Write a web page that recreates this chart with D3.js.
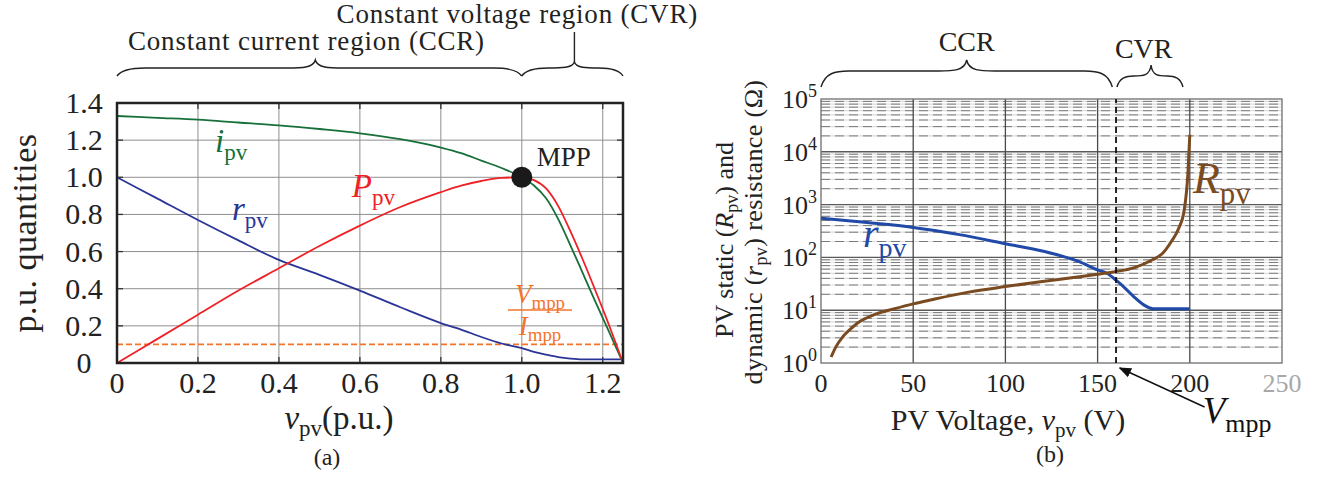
<!DOCTYPE html>
<html>
<head>
<meta charset="utf-8">
<script src="https://cdn.jsdelivr.net/npm/d3@7"></script>
<style>
  body { margin: 0; background: #fff; }
  svg { font-family: "Liberation Serif", "DejaVu Serif", serif; }
</style>
</head>
<body>
<svg id="fig" width="1325" height="480"></svg>
<script>
// ---- panel (a): per-unit quantities ----
const vPu   = [0, 0.1, 0.2, 0.3, 0.4, 0.5, 0.6, 0.7, 0.8, 0.85, 0.9, 0.95, 1.0, 1.03, 1.06, 1.09, 1.12, 1.15, 1.18, 1.21, 1.23, 1.25];
const iPv   = [1.33, 1.32, 1.31, 1.295, 1.28, 1.26, 1.237, 1.205, 1.16, 1.13, 1.09, 1.05, 1.0, 0.956, 0.887, 0.775, 0.634, 0.487, 0.339, 0.194, 0.098, 0];
const pPv   = [0, 0.13, 0.26, 0.39, 0.51, 0.63, 0.74, 0.84, 0.92, 0.955, 0.98, 0.997, 1.0, 0.985, 0.94, 0.845, 0.71, 0.56, 0.4, 0.235, 0.12, 0];
const rPvPu = [1.0, 0.885, 0.77, 0.66, 0.555, 0.475, 0.39, 0.30, 0.215, 0.18, 0.14, 0.105, 0.08, 0.06, 0.045, 0.032, 0.024, 0.02, 0.02, 0.02, 0.02, 0.02];
const vmppOverImpp = 0.1;
const mppPoint = [1.0, 1.0];
const puTicks = [0, 0.2, 0.4, 0.6, 0.8, 1.0, 1.2];
const puTickLabels = ["0", "0.2", "0.4", "0.6", "0.8", "1.0", "1.2"];
const yPuTicks = [0, 0.2, 0.4, 0.6, 0.8, 1.0, 1.2, 1.4];
const yPuTickLabels = ["0", "0.2", "0.4", "0.6", "0.8", "1.0", "1.2", "1.4"];

// ---- panel (b): resistances in ohms ----
const vStatic = [5.5, 8, 12, 16, 20, 25, 30, 40, 50, 60, 80, 100, 120, 140, 150, 160, 170, 180, 185, 190, 194, 197, 199, 200];
const rStatic = [1.3, 2.0, 3.2, 4.4, 5.8, 7.2, 8.5, 10.7, 13.2, 15.8, 22, 28, 35, 43, 48, 54, 64, 91, 117, 200, 355, 800, 4000, 21000];
const vDynamic = [0, 25, 50, 75, 100, 120, 140, 150, 155, 160, 165, 170, 175, 180, 190, 200];
const rDynamic = [550, 457, 370, 270, 182, 132, 83, 58, 50, 37, 26, 17.5, 12.6, 10.7, 10.7, 10.7];
const vMpp = 160;
const voltTicks = [0, 50, 100, 150, 200, 250];
const decadeExp = [0, 1, 2, 3, 4, 5];

const svg = d3.select("#fig");

const green = "#17703a", red = "#ee2127", navy = "#2a3597", orange = "#f3742b";
const blue = "#2149a8", brown = "#7a4a20";

function mathLabel(g, x, y, main, sub, size, color, anchor) {
  const t = g.append("text")
    .attr("x", x).attr("y", y)
    .attr("font-size", size)
    .attr("fill", color)
    .attr("text-anchor", anchor || "start");
  t.append("tspan").attr("font-style", "italic").text(main);
  if (sub) t.append("tspan").attr("font-size", size * 0.7).attr("dy", size * 0.24).text(sub);
  return t;
}

function brace(g, x1, x2, tip, yEnd, yMid, yTip) {
  const cl = Math.min(14, (tip - x1) / 4), cr = Math.min(14, (x2 - tip) / 4);
  const d = `M${x1},${yEnd}` +
    ` C${x1 + cl * 0.3},${yMid + 2} ${x1 + cl},${yMid} ${x1 + 2 * cl},${yMid}` +
    ` L${tip - 2 * cl},${yMid}` +
    ` C${tip - cl},${yMid} ${tip - cl * 0.15},${yMid} ${tip},${yTip}` +
    ` C${tip + cr * 0.15},${yMid} ${tip + cr},${yMid} ${tip + 2 * cr},${yMid}` +
    ` L${x2 - 2 * cr},${yMid}` +
    ` C${x2 - cr},${yMid} ${x2 - cr * 0.3},${yMid + 2} ${x2},${yEnd}`;
  g.append("path").attr("d", d).attr("fill", "none").attr("stroke", "#222").attr("stroke-width", 1.4);
}

// =================== panel (a) ===================
const xL = d3.scaleLinear().domain([0, 1.25]).range([117, 623]);
const yL = d3.scaleLinear().domain([0, 1.4]).range([363, 103]);
const gA = svg.append("g");

// grid
gA.selectAll(".gx").data(puTicks.slice(1)).enter().append("line")
  .attr("x1", d => xL(d)).attr("x2", d => xL(d))
  .attr("y1", yL(0)).attr("y2", yL(1.4))
  .attr("stroke", "#8e8e8e").attr("stroke-width", 1);
gA.selectAll(".gy").data(yPuTicks.slice(1, -1)).enter().append("line")
  .attr("x1", xL(0)).attr("x2", xL(1.25))
  .attr("y1", d => yL(d)).attr("y2", d => yL(d))
  .attr("stroke", "#8e8e8e").attr("stroke-width", 1);

// inward ticks
puTicks.slice(1).forEach(d => {
  gA.append("line").attr("x1", xL(d)).attr("x2", xL(d)).attr("y1", yL(0)).attr("y2", yL(0) - 6).attr("stroke", "#333").attr("stroke-width", 1.3);
  gA.append("line").attr("x1", xL(d)).attr("x2", xL(d)).attr("y1", yL(1.4)).attr("y2", yL(1.4) + 6).attr("stroke", "#333").attr("stroke-width", 1.3);
});
yPuTicks.slice(1, -1).forEach(d => {
  gA.append("line").attr("x1", xL(0)).attr("x2", xL(0) + 6).attr("y1", yL(d)).attr("y2", yL(d)).attr("stroke", "#333").attr("stroke-width", 1.3);
  gA.append("line").attr("x1", xL(1.25)).attr("x2", xL(1.25) - 6).attr("y1", yL(d)).attr("y2", yL(d)).attr("stroke", "#333").attr("stroke-width", 1.3);
});

// Vmpp/Impp dashed level
gA.append("line")
  .attr("x1", xL(0)).attr("x2", xL(1.25))
  .attr("y1", yL(vmppOverImpp)).attr("y2", yL(vmppOverImpp))
  .attr("stroke", orange).attr("stroke-width", 1.8).attr("stroke-dasharray", "6,3");

const lineL = ys => d3.line().x((d, i) => xL(vPu[i])).y(d => yL(d)).curve(d3.curveMonotoneX)(ys);
[[rPvPu, navy], [iPv, green], [pPv, red]].forEach(([ys, c]) => {
  gA.append("path").attr("d", lineL(ys)).attr("fill", "none").attr("stroke", c).attr("stroke-width", 1.8);
});

// frame
gA.append("rect")
  .attr("x", xL(0)).attr("y", yL(1.4))
  .attr("width", xL(1.25) - xL(0)).attr("height", yL(0) - yL(1.4))
  .attr("fill", "none").attr("stroke", "#222").attr("stroke-width", 2.5);

// MPP marker
gA.append("circle").attr("cx", xL(mppPoint[0])).attr("cy", yL(mppPoint[1])).attr("r", 10.5).attr("fill", "#1a1a1a");
gA.append("text").attr("x", xL(1.037)).attr("y", yL(1.061)).attr("font-size", 27).attr("fill", "#222").text("MPP");

// tick labels
gA.selectAll(".tx").data(puTicks).enter().append("text")
  .attr("x", d => xL(d)).attr("y", yL(0) + 30)
  .attr("text-anchor", "middle").attr("font-size", 30).attr("fill", "#222")
  .text((d, i) => puTickLabels[i]);
gA.selectAll(".ty").data(yPuTicks).enter().append("text")
  .attr("x", 84).attr("y", d => yL(d) + 10)
  .attr("text-anchor", "middle").attr("font-size", 30).attr("fill", "#222")
  .text((d, i) => yPuTickLabels[i]);

// axis titles
gA.append("text").attr("transform", `translate(36,${(yL(0) + yL(1.4)) / 2}) rotate(-90)`)
  .attr("text-anchor", "middle").attr("font-size", 34).attr("letter-spacing", 0.5).attr("fill", "#222").text("p.u. quantities");
const xt = gA.append("text").attr("x", 339).attr("y", 429).attr("text-anchor", "middle").attr("font-size", 33).attr("fill", "#222");
xt.append("tspan").attr("font-style", "italic").text("v");
xt.append("tspan").attr("font-size", 23).attr("dy", 7).text("pv");
xt.append("tspan").attr("dy", -7).text("(p.u.)");
gA.append("text").attr("x", 327).attr("y", 465).attr("text-anchor", "middle").attr("font-size", 24).attr("fill", "#222").text("(a)");

// curve labels
mathLabel(gA, xL(0.242), yL(1.136), "i", "pv", 33, green);
mathLabel(gA, xL(0.284), yL(0.77), "r", "pv", 33, navy);
mathLabel(gA, xL(0.58), yL(0.894), "P", "pv", 33, red);

// Vmpp / Impp fraction
const fx = (xL(0.966) + xL(1.124)) / 2;
mathLabel(gA, fx, yL(0.323), "V", "mpp", 27, orange, "middle");
gA.append("line").attr("x1", xL(0.966)).attr("x2", xL(1.124)).attr("y1", yL(0.285)).attr("y2", yL(0.285)).attr("stroke", orange).attr("stroke-width", 1.6);
mathLabel(gA, fx, yL(0.151), "I", "mpp", 27, orange, "middle");

// region braces
brace(gA, xL(0), xL(1.0), xL(0.49), 76, 68, 60);
brace(gA, xL(1.0), xL(1.25), xL(1.13), 76, 68, 62);
gA.append("line").attr("x1", xL(1.13)).attr("x2", xL(1.13)).attr("y1", 62).attr("y2", 32).attr("stroke", "#222").attr("stroke-width", 1.4);
gA.append("text").attr("x", 128).attr("y", 50).attr("font-size", 27).attr("letter-spacing", 0.8).attr("fill", "#222").text("Constant current region (CCR)");
gA.append("text").attr("x", 698).attr("y", 23).attr("text-anchor", "end").attr("font-size", 27).attr("letter-spacing", 0.8).attr("fill", "#222").text("Constant voltage region (CVR)");

// =================== panel (b) ===================
const xR = d3.scaleLinear().domain([0, 250]).range([821, 1282]);
const yR = d3.scaleLog().domain([1, 1e5]).range([363, 99]);
const gB = svg.append("g");

// minor log grid
const minorVals = [];
decadeExp.slice(0, -1).forEach(e => { for (let k = 2; k <= 9; k++) minorVals.push(k * Math.pow(10, e)); });
gB.selectAll(".mn").data(minorVals).enter().append("line")
  .attr("x1", xR(0)).attr("x2", xR(250))
  .attr("y1", d => yR(d)).attr("y2", d => yR(d))
  .attr("stroke", "#dcdcdc").attr("stroke-width", 1.2);
gB.selectAll(".mnd").data(minorVals).enter().append("line")
  .attr("x1", xR(0)).attr("x2", xR(250))
  .attr("y1", d => yR(d)).attr("y2", d => yR(d))
  .attr("stroke", "#7a7a7a").attr("stroke-width", 1).attr("stroke-dasharray", "9,5");

// major grid
gB.selectAll(".mj").data(decadeExp.slice(1, -1)).enter().append("line")
  .attr("x1", xR(0)).attr("x2", xR(250))
  .attr("y1", d => yR(Math.pow(10, d))).attr("y2", d => yR(Math.pow(10, d)))
  .attr("stroke", "#5a5a5a").attr("stroke-width", 1.4);
gB.selectAll(".vg").data(voltTicks.slice(1, -1)).enter().append("line")
  .attr("x1", d => xR(d)).attr("x2", d => xR(d))
  .attr("y1", yR(1)).attr("y2", yR(1e5))
  .attr("stroke", "#4a4a4a").attr("stroke-width", 1.3);

// frame
gB.append("rect")
  .attr("x", xR(0)).attr("y", yR(1e5))
  .attr("width", xR(250) - xR(0)).attr("height", yR(1) - yR(1e5))
  .attr("fill", "none").attr("stroke", "#6e6e6e").attr("stroke-width", 1.3);

// curves
const lineR = (xs, ys) => d3.line().x((d, i) => xR(xs[i])).y(d => yR(d)).curve(d3.curveMonotoneX)(ys);
gB.append("path").attr("d", lineR(vDynamic, rDynamic)).attr("fill", "none").attr("stroke", blue).attr("stroke-width", 3);
gB.append("path").attr("d", lineR(vStatic, rStatic)).attr("fill", "none").attr("stroke", brown).attr("stroke-width", 3);

// Vmpp line
gB.append("line").attr("x1", xR(vMpp)).attr("x2", xR(vMpp)).attr("y1", yR(1)).attr("y2", yR(1e5))
  .attr("stroke", "#111").attr("stroke-width", 1.8).attr("stroke-dasharray", "6,4");

// tick labels
gB.selectAll(".txr").data(voltTicks).enter().append("text")
  .attr("x", d => xR(d)).attr("y", yR(1) + 29)
  .attr("text-anchor", "middle").attr("font-size", 26)
  .attr("fill", d => d === 250 ? "#a8a8a8" : "#222")
  .text(d => d);
decadeExp.forEach(e => {
  const t = gB.append("text").attr("x", 817).attr("y", yR(Math.pow(10, e)) + 9)
    .attr("text-anchor", "end").attr("font-size", 26).attr("fill", "#222");
  t.append("tspan").text("10");
  t.append("tspan").attr("font-size", 18).attr("dy", -11).text(e);
});

// axis titles
const xtb = gB.append("text").attr("x", 1008).attr("y", 430).attr("text-anchor", "middle").attr("font-size", 30).attr("fill", "#222");
xtb.append("tspan").text("PV Voltage, ");
xtb.append("tspan").attr("font-style", "italic").text("v");
xtb.append("tspan").attr("font-size", 21).attr("dy", 7).text("pv");
xtb.append("tspan").attr("dy", -7).text(" (V)");
gB.append("text").attr("x", 1050).attr("y", 462).attr("text-anchor", "middle").attr("font-size", 24).attr("fill", "#222").text("(b)");

const yl1 = gB.append("text").attr("transform", "translate(733,240) rotate(-90)")
  .attr("text-anchor", "middle").attr("font-size", 26).attr("fill", "#222");
yl1.append("tspan").text("PV static (");
yl1.append("tspan").attr("font-style", "italic").text("R");
yl1.append("tspan").attr("font-size", 18).attr("dy", 5).text("pv");
yl1.append("tspan").attr("dy", -5).text(") and");
const yl2 = gB.append("text").attr("transform", "translate(762,232) rotate(-90)")
  .attr("text-anchor", "middle").attr("font-size", 26).attr("letter-spacing", 0.4).attr("fill", "#222");
yl2.append("tspan").text("dynamic (");
yl2.append("tspan").attr("font-style", "italic").text("r");
yl2.append("tspan").attr("font-size", 18).attr("dy", 5).text("pv");
yl2.append("tspan").attr("dy", -5).text(") resistance (Ω)");

// curve labels
mathLabel(gB, xR(201.7), yR(1660), "R", "pv", 44, brown);
mathLabel(gB, xR(22.8), yR(158), "r", "pv", 40, blue);

// Vmpp annotation arrow
svg.append("defs").append("marker")
  .attr("id", "arr").attr("viewBox", "0 0 10 10").attr("refX", 9).attr("refY", 5)
  .attr("markerWidth", 9).attr("markerHeight", 9).attr("orient", "auto")
  .append("path").attr("d", "M0,1 L10,5 L0,9 Z").attr("fill", "#111");
gB.append("line").attr("x1", xR(208)).attr("y1", yR(1) + 44).attr("x2", xR(162)).attr("y2", yR(1) + 5)
  .attr("stroke", "#111").attr("stroke-width", 1.4).attr("marker-end", "url(#arr)");
mathLabel(gB, xR(207), yR(1) + 60, "V", "mpp", 37, "#111");

// region braces
brace(gB, xR(0), xR(158), xR(79), 87, 71, 60);
brace(gB, xR(160.5), xR(196.3), xR(179), 87, 76, 65);
gB.append("text").attr("x", xR(79)).attr("y", 51).attr("text-anchor", "middle").attr("font-size", 28).attr("fill", "#222").text("CCR");
gB.append("text").attr("x", xR(175)).attr("y", 58).attr("text-anchor", "middle").attr("font-size", 28).attr("fill", "#222").text("CVR");
</script>
</body>
</html>
